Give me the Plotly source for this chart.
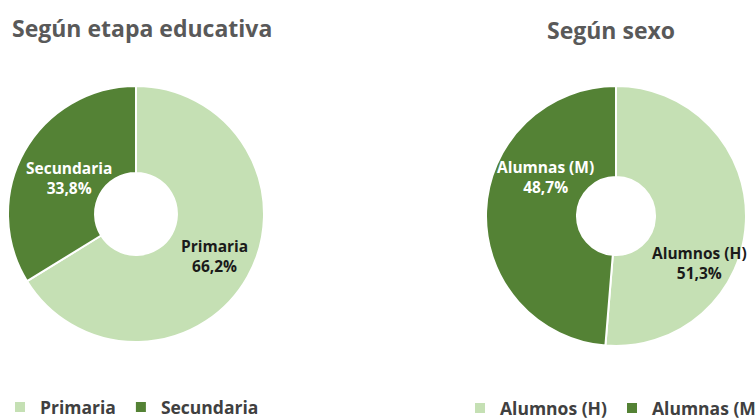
import math
import plotly.graph_objects as go

etapa_labels = ["Primaria", "Secundaria"]
etapa_values = [66.2, 33.8]
sexo_labels = ["Alumnos (H)", "Alumnas (M)"]
sexo_values = [51.3, 48.7]

LIGHT = "#C5E0B4"
DARK = "#548235"
FONT = "Open Sans"
TEXT_COLORS = ["#1a1a1a", "white"]

W, H = 756, 419

def dom(cx, cy, r):
    return dict(x=[(cx - r) / W, (cx + r) / W], y=[(H - cy - r) / H, (H - cy + r) / H])

# pie geometry (pixels): centre x, centre y, radius, hole, label angle offset, label radial fractions
charts = [
    dict(labels=etapa_labels, values=etapa_values, cx=136, cy=214, r=128, hole=0.32,
         off=-1.0, rad=[0.70, 0.59], legend="legend"),
    dict(labels=sexo_labels, values=sexo_values, cx=616, cy=216, r=130, hole=0.30,
         off=27.0, rad=[0.74, 0.62], legend="legend2"),
]

fig = go.Figure()
annotations = []
for c in charts:
    fig.add_trace(go.Pie(
        labels=c["labels"], values=c["values"], sort=False, direction="clockwise", rotation=0,
        hole=c["hole"], domain=dom(c["cx"], c["cy"], c["r"]),
        marker=dict(colors=[LIGHT, DARK], line=dict(color="white", width=2)),
        textinfo="none", hoverinfo="label+percent", legend=c["legend"], showlegend=True,
    ))
    total = sum(c["values"])
    cum = 0.0
    for i, (lab, v) in enumerate(zip(c["labels"], c["values"])):
        mid = (cum + v / 2) / total * 360.0 + c["off"]
        cum += v
        d = c["rad"][i] * c["r"]
        px = c["cx"] + d * math.sin(math.radians(mid))
        py = c["cy"] - d * math.cos(math.radians(mid))
        txt = f"<b>{lab}</b><br><b>{v:.1f}%</b>".replace(".", ",")
        annotations.append(dict(text=txt, x=px / W, y=(H - py) / H, xref="paper", yref="paper",
                                showarrow=False, xanchor="center", yanchor="middle",
                                font=dict(family=FONT, size=15.5, color=TEXT_COLORS[i])))

annotations += [
    dict(text="<b>Según etapa educativa</b>", x=142 / W, y=(H - 28) / H, xref="paper", yref="paper",
         showarrow=False, font=dict(family=FONT, size=23, color="#595959"), xanchor="center", yanchor="middle"),
    dict(text="<b>Según sexo</b>", x=611 / W, y=(H - 30) / H, xref="paper", yref="paper",
         showarrow=False, font=dict(family=FONT, size=23, color="#595959"), xanchor="center", yanchor="middle"),
]

legfont = dict(family=FONT, size=17.5, color="#404040", weight="bold")
fig.update_layout(
    width=W, height=H, margin=dict(l=0, r=0, t=0, b=0, autoexpand=False),
    paper_bgcolor="white", plot_bgcolor="white",
    font=dict(family=FONT, color="#404040"),
    legend=dict(orientation="h", xref="container", yref="container",
                x=0, y=(H - 407) / H, xanchor="left", yanchor="middle",
                font=legfont, bgcolor="rgba(0,0,0,0)", itemwidth=30),
    legend2=dict(orientation="h", xref="container", yref="container",
                 x=460 / W, y=(H - 408) / H, xanchor="left", yanchor="middle",
                 font=legfont, bgcolor="rgba(0,0,0,0)", itemwidth=30),
    annotations=annotations,
)

fig.write_html("out.html", config={"displayModeBar": False},
               post_script="document.body.style.margin='0';document.body.style.overflow='hidden';")
